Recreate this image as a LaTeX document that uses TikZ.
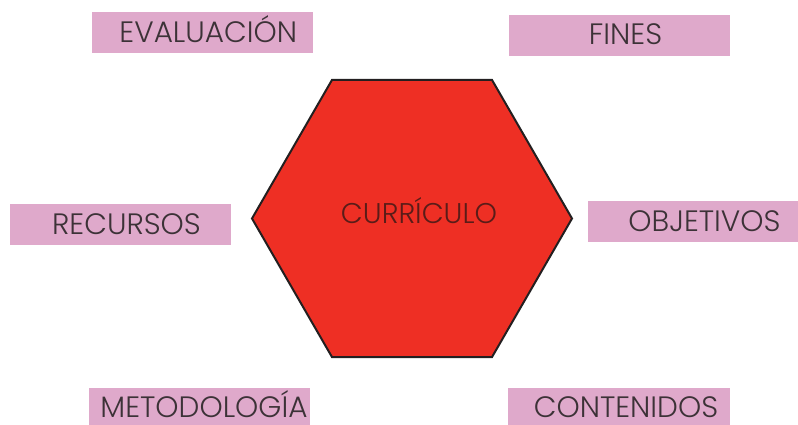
\documentclass[tikz,border=0pt]{standalone}
\usepackage{fontspec}
\setmainfont{Poppins Light}
\usetikzlibrary{shapes.geometric}
\definecolor{orchid}{HTML}{DFA9CB}
\definecolor{inkgray}{HTML}{3C3237}
\definecolor{hexred}{HTML}{EE2F24}
\definecolor{hexline}{HTML}{231F20}
\definecolor{hexink}{HTML}{5A1C18}

\begin{document}
\begin{tikzpicture}[
    x=1pt, y=-1pt,
    tagbox/.style={
      fill=orchid,
      minimum width=221pt,
      minimum height=41pt,
      inner sep=0pt,
    },
    tagtext/.style={
      text=inkgray,
      font=\fontsize{29.5}{34}\selectfont,
      text height=20.6pt,
      text depth=0pt,
      inner sep=0pt,
    },
    hexagon/.style={
      regular polygon,
      regular polygon sides=6,
      minimum size=320pt,
      inner sep=0pt,
      outer sep=0pt,
      fill=hexred,
      draw=hexline,
      line width=2pt,
    },
    ]
    \useasboundingbox (0,0) rectangle (798,425);
    \node[hexagon, label={[tagtext, text=hexink, font=\fontsize{28.5}{32}\selectfont, text height=19.8pt, xshift=7pt, yshift=5pt]center:CURRÍCULO}] (curr) at (412,218.5) {};

    \node[tagbox, label={[tagtext, xshift=6pt, yshift=0.5pt]center:EVALUACIÓN}] (eval) at (202.3,33) {};
    \node[tagbox, label={[tagtext, xshift=6pt, yshift=0.8pt]center:FINES}] (fines) at (619.5,35.3) {};
    \node[tagbox, label={[tagtext, xshift=6pt, yshift=0.3pt]center:RECURSOS}] (recur) at (120.5,224) {};
    \node[tagbox, minimum width=210pt, label={[tagtext, xshift=11.5pt, yshift=0.5pt]center:OBJETIVOS}] (objet) at (693,221.5) {};
    \node[tagbox, minimum height=37pt, label={[tagtext, xshift=4.5pt, yshift=-0.5pt]center:METODOLOGÍA}] (metod) at (199.5,406.5) {};
    \node[tagbox, minimum width=222pt, minimum height=37pt, label={[tagtext, xshift=7pt, yshift=-0.5pt]center:CONTENIDOS}] (conten) at (619,406.5) {};
  \end{tikzpicture}
\end{document}
